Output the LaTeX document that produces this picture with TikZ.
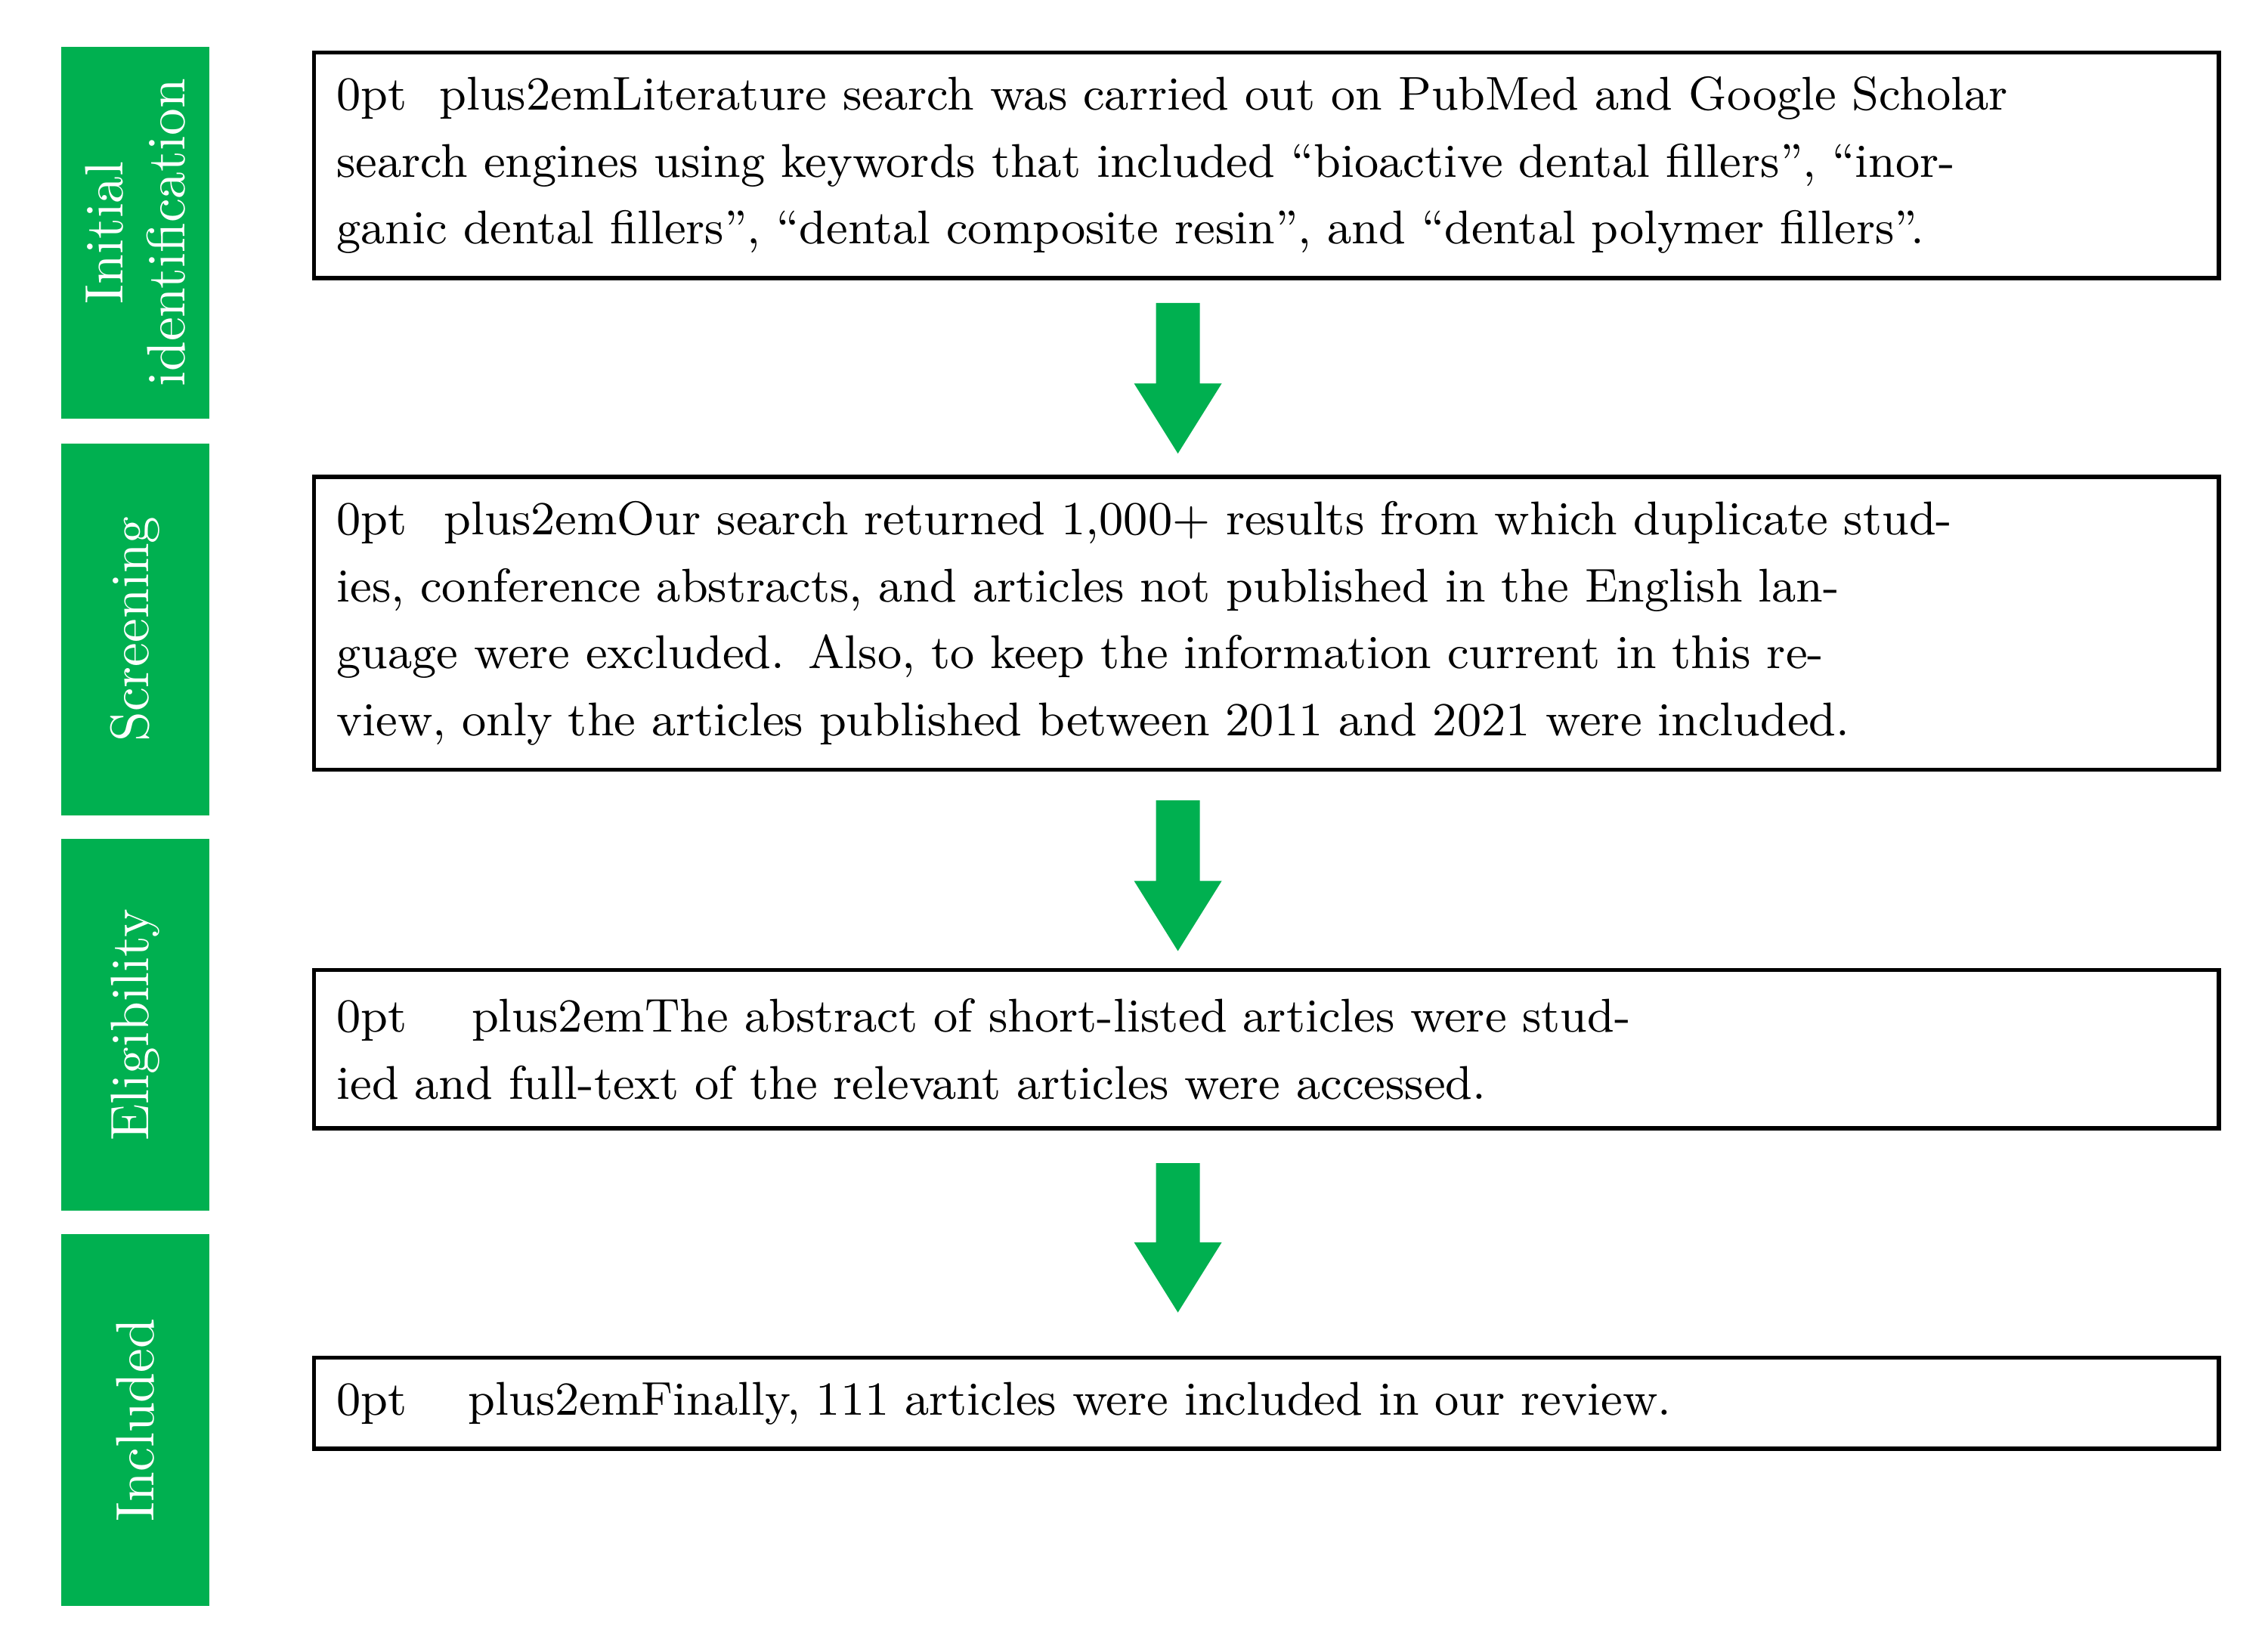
\documentclass[tikz,border=0pt]{standalone}
\usepackage{tikz}
\usetikzlibrary{arrows.meta,positioning}
\definecolor{stagegreen}{RGB}{0,176,80}

\begin{document}
\begin{tikzpicture}[
    x=0.01cm, y=-0.01cm,
    stage/.style={fill=stagegreen, minimum width=1.01cm, minimum height=2.54cm, inner sep=0pt},
    stagelabel/.style={rotate=90, text=white, font=\fontsize{10.5}{12}\selectfont, align=center},
    box/.style={rectangle, draw, thick, minimum width=13.01cm, text width=12.7cm, align=center, font=\fontsize{9.2}{13}\selectfont\hyphenpenalty=10000},
    flow/.style={fill=stagegreen}
]
    \useasboundingbox (0,0) rectangle (1550,1127);
    % stages on the left
    \node[stage] (S1) at (92.5,159) {};
    \node[stage] (S2) at (92.5,430) {};
    \node[stage] (S3) at (92.5,700.5) {};
    \node[stage] (S4) at (92.5,970.5) {};
    \node[stagelabel] at (S1) {Initial\\identification};
    \node[stagelabel] at (S2) {Screening};
    \node[stagelabel] at (S3) {Eligibility};
    \node[stagelabel] at (S4) {Included};

    % boxes
    \node[box, minimum height=1.54cm] (B1) at (865.5,113) {Literature search was carried out on PubMed and Google Scholar search engines using keywords that included ``bioactive dental fillers'', ``inorganic dental fillers'', ``dental composite resin'', and ``dental polymer fillers''.};
    \node[box, minimum height=2.0cm] (B2) at (865.5,426) {Our search returned 1,000+ results from which duplicate studies, conference abstracts, and articles not published in the English language were excluded. Also, to keep the information current in this review, only the articles published between 2011 and 2021 were included.};
    \node[box, minimum height=1.08cm] (B3) at (865.5,717) {The abstract of short-listed articles were studied and full-text of the relevant articles were accessed.};
    \node[box, minimum height=0.62cm] (B4) at (865.5,959) {Finally, 111 articles were included in our review.};

    % block arrows between boxes
    \foreach \top/\bot in {207/310, 547/650, 795/897}{
        \fill[flow] (790,\top) -- (820,\top) -- (820,\bot-48) -- (835,\bot-48)
            -- (805,\bot) -- (775,\bot-48) -- (790,\bot-48) -- cycle;
    }
\end{tikzpicture}
\end{document}
